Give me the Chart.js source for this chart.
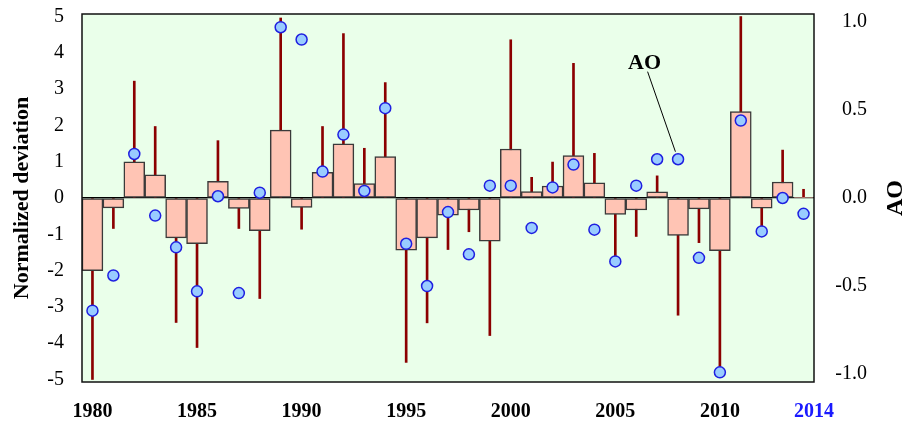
<!DOCTYPE html>
<html>
<head>
<meta charset="utf-8">
<script src="https://cdn.jsdelivr.net/npm/chart.js@4.4.1/dist/chart.umd.min.js"></script>
<style>
  html, body { margin: 0; padding: 0; background: #ffffff; }
  #chart { display: block; }
</style>
</head>
<body>
<canvas id="chart" width="907" height="424"></canvas>
<script>
// Years (one bar per year)
const years = [
  1980, 1981, 1982, 1983, 1984, 1985, 1986, 1987, 1988, 1989,
  1990, 1991, 1992, 1993, 1994, 1995, 1996, 1997, 1998, 1999,
  2000, 2001, 2002, 2003, 2004, 2005, 2006, 2007, 2008, 2009,
  2010, 2011, 2012, 2013, 2014
];

// Normalized deviation (bars, left axis)
const deviation = [
  -2.00, -0.27, 1.00, 0.64, -1.10, -1.26, 0.46, -0.29, -0.90, 1.87,
  -0.26, 0.71, 1.49, 0.40, 1.14, -1.44, -1.10, -0.47, -0.33, -1.19,
  1.35, 0.18, 0.33, 1.17, 0.42, -0.45, -0.33, 0.17, -1.03, -0.30,
  -1.45, 2.38, -0.28, 0.44, 0.02
];

// Extreme value of each year (dark red lines, left axis)
const extremes = [
  -5.00, -0.84, 3.22, 1.97, -3.43, -4.12, 1.58, -0.84, -2.77, 4.96,
  -0.86, 1.97, 4.53, 1.37, 3.18, -4.53, -3.44, -1.42, -0.93, -3.79,
  4.36, 0.57, 0.99, 3.71, 1.23, -1.72, -1.06, 0.61, -3.23, -1.23,
  -4.83, 5.00, -0.94, 1.32, 0.24
];

// AO index (circles, right axis)
const aoIndex = [
  -0.64, -0.44, 0.25, -0.10, -0.28, -0.53, 0.01, -0.54, 0.03, 0.97,
  0.90, 0.15, 0.36, 0.04, 0.51, -0.26, -0.50, -0.08, -0.32, 0.07,
  0.07, -0.17, 0.06, 0.19, -0.18, -0.36, 0.07, 0.22, 0.22, -0.34,
  -0.99, 0.44, -0.19, 0.00, -0.09
];

// Tick labels
const leftTicks = [-5, -4, -3, -2, -1, 0, 1, 2, 3, 4, 5];
const rightTicks = [-1.0, -0.5, 0.0, 0.5, 1.0];
const xTickValues = [1980, 1985, 1990, 1995, 2000, 2005, 2010, 2014.5];
const xTickLabels = ["1980", "1985", "1990", "1995", "2000", "2005", "2010", "2014"];

// "AO" callout: label anchor (year, left-axis value) and the year it points to
const aoLabelYear = 2006.4;
const aoLabelValue = 3.55;
const aoPointYear = 2008;

const serif = "'Liberation Serif', 'Times New Roman', serif";

// keep the axis label overhang from pushing the plot area around
function noOverhang(scale) {
  scale.paddingTop = 0;
  scale.paddingBottom = 0;
  scale.paddingLeft = 0;
  scale.paddingRight = 0;
}

// Plot background + frame + callout + right title
const decorations = {
  id: "decorations",
  beforeDraw(chart) {
    const { ctx, chartArea: a } = chart;
    ctx.save();
    ctx.fillStyle = "#eaffea";
    ctx.fillRect(a.left, a.top, a.right - a.left, a.bottom - a.top);
    ctx.restore();
  },
  afterDraw(chart) {
    const { ctx, chartArea: a, scales } = chart;
    ctx.save();
    ctx.strokeStyle = "#111";
    ctx.lineWidth = 1.5;
    ctx.strokeRect(a.left, a.top, a.right - a.left, a.bottom - a.top);

    // callout text
    const tx = scales.x.getPixelForValue(aoLabelYear);
    const ty = scales.y.getPixelForValue(aoLabelValue);
    ctx.fillStyle = "#000";
    ctx.font = "bold 22px " + serif;
    ctx.textAlign = "center";
    ctx.textBaseline = "alphabetic";
    ctx.fillText("AO", tx, ty);

    // callout line to the AO point
    const idx = years.indexOf(aoPointYear);
    const px = scales.x.getPixelForValue(aoPointYear);
    const py = scales.y2.getPixelForValue(aoIndex[idx]);
    const sx = tx + 3, sy = ty + 2.5;
    const len = Math.hypot(px - sx, py - sy);
    const ex = px - (px - sx) / len * 8;
    const ey = py - (py - sy) / len * 8;
    ctx.strokeStyle = "#000";
    ctx.lineWidth = 1;
    ctx.beginPath();
    ctx.moveTo(sx, sy);
    ctx.lineTo(ex, ey);
    ctx.stroke();

    // right axis title, reading upwards
    ctx.translate(896, (a.top + a.bottom) / 2);
    ctx.rotate(-Math.PI / 2);
    ctx.font = "bold 24px " + serif;
    ctx.textBaseline = "middle";
    ctx.fillText("AO", 0, 0);
    ctx.restore();
  }
};

new Chart(document.getElementById("chart"), {
  data: {
    datasets: [
      {
        type: "line",
        label: "AO",
        data: years.map((y, i) => ({ x: y, y: aoIndex[i] })),
        yAxisID: "y2",
        showLine: false,
        pointRadius: 5.5,
        pointBackgroundColor: "#99ccff",
        pointBorderColor: "#1f1fe0",
        pointBorderWidth: 1.5,
        order: 0
      },
      {
        type: "bar",
        label: "Deviation",
        data: years.map((y, i) => ({ x: y, y: deviation[i] })),
        yAxisID: "y",
        backgroundColor: "#ffc4b4",
        borderColor: "#3a3a3a",
        borderWidth: 1.5,
        borderSkipped: false,
        barPercentage: 1,
        categoryPercentage: 1,
        grouped: false,
        order: 1
      },
      {
        type: "bar",
        label: "Extremes",
        data: years.map((y, i) => ({ x: y, y: [0, extremes[i]] })),
        yAxisID: "y",
        backgroundColor: "#8b0000",
        borderWidth: 0,
        barThickness: 2,
        grouped: false,
        order: 2
      }
    ]
  },
  options: {
    responsive: false,
    animation: false,
    events: [],
    layout: { padding: { top: 14, right: 40, left: 0, bottom: 0 } },
    plugins: {
      legend: { display: false },
      tooltip: { enabled: false }
    },
    scales: {
      x: {
        type: "linear",
        min: 1979.5,
        max: 2014.5,
        offset: false,
        grid: { display: false, drawTicks: false },
        border: { display: false },
        afterBuildTicks: (scale) => {
          scale.ticks = xTickValues.map((v) => ({ value: v }));
        },
        afterFit: (scale) => { scale.height = 42; noOverhang(scale); },
        ticks: {
          autoSkip: false,
          maxRotation: 0,
          padding: 18,
          font: { family: serif, size: 20, weight: "bold" },
          color: (ctx) => (ctx.index === xTickValues.length - 1 ? "#1a1aff" : "#000"),
          callback: (value, index) => xTickLabels[index]
        }
      },
      y: {
        position: "left",
        min: -5.07,
        max: 5.07,
        grid: {
          drawTicks: false,
          color: (ctx) => (ctx.tick && ctx.tick.value === 0 ? "#000" : "rgba(0,0,0,0)"),
          lineWidth: 1.2
        },
        border: { display: false },
        afterBuildTicks: (scale) => {
          scale.ticks = leftTicks.map((v) => ({ value: v }));
        },
        afterFit: (scale) => { scale.width = 82; noOverhang(scale); },
        ticks: {
          padding: 18,
          color: "#000",
          font: { family: serif, size: 20 },
          callback: (value) => String(value)
        },
        title: {
          display: true,
          text: "Normalized deviation",
          color: "#000",
          padding: { top: 9, bottom: 0 },
          font: { family: serif, size: 22, weight: "bold" }
        }
      },
      y2: {
        position: "right",
        min: -1.045,
        max: 1.045,
        grid: { display: false, drawTicks: false },
        border: { display: false },
        afterBuildTicks: (scale) => {
          scale.ticks = rightTicks.map((v) => ({ value: v }));
        },
        afterFit: (scale) => { scale.width = 53; noOverhang(scale); },
        ticks: {
          padding: 16,
          crossAlign: "far",
          color: "#000",
          font: { family: serif, size: 20 },
          callback: (value) => value.toFixed(1)
        }
      }
    }
  },
  plugins: [decorations]
});
</script>
</body>
</html>
